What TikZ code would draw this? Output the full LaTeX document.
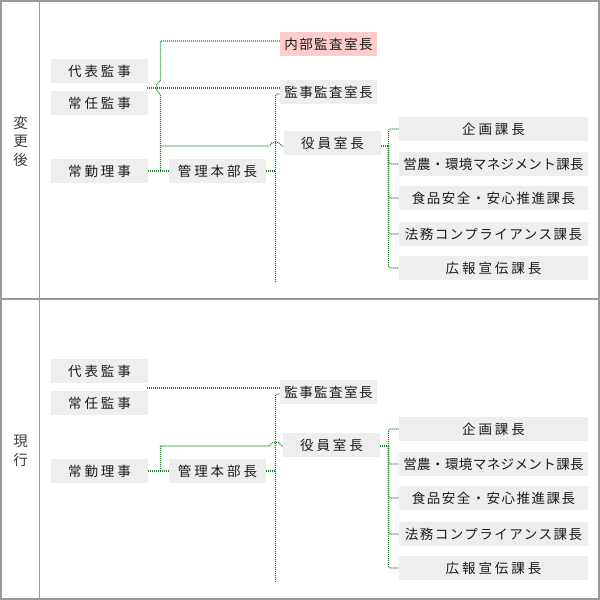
\documentclass[tikz,border=0pt]{standalone}
\usepackage{fontspec}
\setmainfont{Noto Sans CJK JP}
\newfontfamily\jpwide[LetterSpace=22]{Noto Sans CJK JP}
\newfontfamily\jpmid[LetterSpace=11]{Noto Sans CJK JP}
\newfontfamily\jptight[LetterSpace=3]{Noto Sans CJK JP}
\usepackage{tikz}
\usetikzlibrary{positioning}
\definecolor{framegray}{HTML}{999999}
\definecolor{boxgray}{HTML}{EEEEEE}
\definecolor{pinkfill}{HTML}{FFCCCC}
\definecolor{linegreen}{HTML}{1E7F2C}
\definecolor{txt}{HTML}{1A1A1A}

\begin{document}
\begin{tikzpicture}[
        x=1pt, y=-1pt,
        box/.style = {fill=boxgray, text=txt, minimum width=97pt, minimum height=24pt, inner sep=0pt,
                      font=\jpwide\fontsize{13.5}{16}\selectfont},
        midbox/.style = {box, font=\jpmid\fontsize{13.5}{16}\selectfont},
        longbox/.style = {box, minimum width=189pt},
        link/.style = {draw=linegreen, line width=1.1pt, dash pattern=on 1pt off 1pt},
        side/.style = {text=txt!85, align=center, font=\fontsize{14.5}{18.5}\selectfont},
        ]
        \useasboundingbox (0,0) rectangle (600,600);
        % frame
        \draw[framegray, line width=2pt] (1,1) rectangle (599,599);
        \draw[framegray, line width=2pt] (0,299) -- (600,299);
        \draw[framegray, line width=1pt] (39.5,0) -- (39.5,600);
        \node[side](after) at (20.5,141.5) {変\\更\\後};
        \node[side](now) at (20.5,451) {現\\行};

        % after
        \node[box](rep) at (99.5,71) {代表監事};
        \node[box](std) at (99.5,103) {常任監事};
        \node[box](exe) at (99.5,171) {常勤理事};
        \node[box](mgr) at (217.5,171) {管理本部長};
        \node[midbox, fill=pinkfill](aud) at (328.5,44) {内部監査室長};
        \node[midbox](kan) at (328.5,92) {監事監査室長};
        \node[box](yak) at (332.5,143) {役員室長};
        \node[longbox](k1) at (493.5,129) {企画課長};
        \node[longbox, font=\jptight\fontsize{13.5}{16}\selectfont](k2) at (493.5,164) {営農・環境マネジメント課長};
        \node[longbox, font=\jpmid\fontsize{13.5}{16}\selectfont](k3) at (493.5,198) {食品安全・安心推進課長};
        \node[longbox, font=\jpmid\fontsize{13.5}{16}\selectfont](k4) at (493.5,234) {法務コンプライアンス課長};
        \node[longbox](k5) at (493.5,268) {広報宣伝課長};
        \coordinate (pair) at (147,88);
        \coordinate (end) at (275.5,282);
        \draw[link] (pair) -- ([yshift=4pt]kan.west);
        \draw[link] ([yshift=3pt]aud.west) -| (160.5,80) -- (156.5,85) -- (156.5,90) -- (160.5,95) -- (160.5,171);
        \draw[link] (160.5,146) -- (269,146) -- (272.5,142.5) -- (278.5,142.5) -- (282,146) -- ([yshift=-3pt]yak.west);
        \draw[link] (exe) -- (mgr);
        \draw[link] (mgr.east) -- (end |- mgr.east);
        \draw[link, rounded corners=2pt] (end) |- ([yshift=-2pt]kan.west);
        \draw[link] ([yshift=-3pt]yak.east) -- (388.5,146);
        \foreach \k in {k1,k2,k3,k4,k5}
            \draw[link, rounded corners=2pt] (388.5,146) |- (\k.west);

        % now
        \node[box](rep2) at (99.5,371) {代表監事};
        \node[box](std2) at (99.5,403) {常任監事};
        \node[box](exe2) at (99.5,471) {常勤理事};
        \node[box](mgr2) at (217.5,471) {管理本部長};
        \node[midbox](kan2) at (328.5,392) {監事監査室長};
        \node[box](yak2) at (331.5,445) {役員室長};
        \node[longbox](n1) at (493.5,429) {企画課長};
        \node[longbox, font=\jptight\fontsize{13.5}{16}\selectfont](n2) at (493.5,464) {営農・環境マネジメント課長};
        \node[longbox, font=\jpmid\fontsize{13.5}{16}\selectfont](n3) at (493.5,498) {食品安全・安心推進課長};
        \node[longbox, font=\jpmid\fontsize{13.5}{16}\selectfont](n4) at (493.5,534) {法務コンプライアンス課長};
        \node[longbox](n5) at (493.5,568) {広報宣伝課長};
        \coordinate (pair2) at (147,388);
        \coordinate (end2) at (275.5,582);
        \draw[link] (pair2) -- ([yshift=4pt]kan2.west);
        \draw[link] (exe2) -- (mgr2);
        \draw[link] (160.5,471) -- (160.5,446) -- (269,446) -- (272.5,442.5) -- (278.5,442.5) -- (282,446) -- ([yshift=-1pt]yak2.west);
        \draw[link] (mgr2.east) -- (end2 |- mgr2.east);
        \draw[link, rounded corners=2pt] (end2) |- ([yshift=-2pt]kan2.west);
        \draw[link] ([yshift=-1pt]yak2.east) -- (388.5,446);
        \foreach \k in {n1,n2,n3,n4,n5}
            \draw[link, rounded corners=2pt] (388.5,446) |- (\k.west);
\end{tikzpicture}
\end{document}
